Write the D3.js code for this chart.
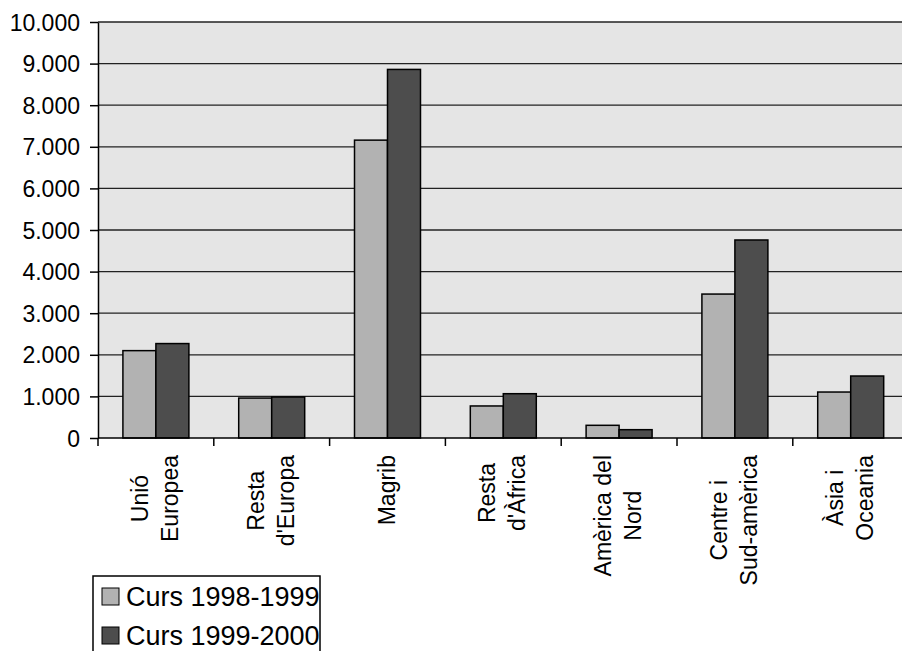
<!DOCTYPE html>
<html lang="ca">
<head>
    <meta charset="UTF-8">
    <title>Alumnes estrangers per procedència</title>
    <script src="https://d3js.org/d3.v7.min.js"></script>
    <style>
        body { margin: 0; background: #fff; }
        svg { display: block; font-family: "Liberation Sans", Arial, sans-serif; }
        .grid line { stroke: #222; stroke-width: 1.3; }
        .axis text { font-size: 23px; fill: #000; }
        .axis path, .axis line { stroke: #000; stroke-width: 1.5; }
    </style>
</head>
<body>
    <svg width="902" height="651"></svg>

    <script>
        // Data
        const categories = ["Unió Europea", "Resta d'Europa", "Magrib", "Resta d'Àfrica",
                            "Amèrica del Nord", "Centre i Sud-amèrica", "Àsia i Oceania"];
        const categoryLines = [["Unió", "Europea"], ["Resta", "d'Europa"], ["Magrib"],
                               ["Resta", "d'Àfrica"], ["Amèrica del", "Nord"],
                               ["Centre i", "Sud-amèrica"], ["Àsia i", "Oceania"]];
        const seriesNames = ["Curs 1998-1999", "Curs 1999-2000"];
        const curs1998 = [2100, 960, 7160, 770, 305, 3460, 1105];
        const curs1999 = [2270, 985, 8860, 1065, 200, 4760, 1490];
        const yTicks = [0, 1000, 2000, 3000, 4000, 5000, 6000, 7000, 8000, 9000, 10000];
        const colors = ["#b2b2b2", "#4d4d4d"];

        const data = categories.map(function(c, i) {
            return { cat: c, values: [curs1998[i], curs1999[i]] };
        });

        // Layout
        const plotLeft = 98, plotTop = 22, plotBottom = 438, plotRight = 908.6;

        const svg = d3.select("svg");

        const x0 = d3.scaleBand()
            .domain(categories)
            .range([plotLeft, plotRight])
            .padding(0);

        const x1 = d3.scaleBand()
            .domain([0, 1])
            .range([0, x0.bandwidth()])
            .paddingInner(0)
            .paddingOuter(0.755);

        const y = d3.scaleLinear()
            .domain([0, 10000])
            .range([plotBottom, plotTop]);

        const fmt = d3.formatLocale({ decimal: ",", thousands: ".", grouping: [3], currency: ["", ""] }).format(",");

        // Plot background
        svg.append("rect")
            .attr("x", plotLeft)
            .attr("y", plotTop)
            .attr("width", plotRight - plotLeft)
            .attr("height", plotBottom - plotTop)
            .attr("fill", "#e5e5e5");

        // Gridlines
        svg.append("g")
            .attr("class", "grid")
            .selectAll("line")
            .data(yTicks.slice(1))
            .enter()
            .append("line")
            .attr("x1", plotLeft)
            .attr("x2", plotRight)
            .attr("y1", function(d) { return y(d); })
            .attr("y2", function(d) { return y(d); });

        // Bars
        const groups = svg.selectAll(".group")
            .data(data)
            .enter()
            .append("g")
            .attr("class", "group")
            .attr("transform", function(d) { return "translate(" + x0(d.cat) + ",0)"; });

        groups.selectAll("rect")
            .data(function(d) { return d.values; })
            .enter()
            .append("rect")
            .attr("x", function(d, i) { return x1(i); })
            .attr("y", function(d) { return y(d); })
            .attr("width", x1.bandwidth())
            .attr("height", function(d) { return plotBottom - y(d); })
            .attr("fill", function(d, i) { return colors[i]; })
            .attr("stroke", "#000")
            .attr("stroke-width", 1.5);

        // Y axis
        const yAxis = svg.append("g")
            .attr("class", "axis")
            .attr("transform", "translate(" + plotLeft + ",0)")
            .call(d3.axisLeft(y).tickValues(yTicks).tickFormat(fmt).tickSize(8).tickPadding(10).tickSizeOuter(0));
        yAxis.selectAll("text").attr("dy", "0.35em");

        // X axis with ticks at band edges
        const xAxis = svg.append("g")
            .attr("class", "axis")
            .attr("transform", "translate(0," + plotBottom + ")");
        xAxis.append("line")
            .attr("x1", plotLeft)
            .attr("x2", plotRight);
        xAxis.selectAll(".xt")
            .data(categories)
            .enter()
            .append("line")
            .attr("class", "xt")
            .attr("x1", function(d) { return x0(d); })
            .attr("x2", function(d) { return x0(d); })
            .attr("y1", 0)
            .attr("y2", 8);

        // Rotated category labels, each block centred on its group
        const lineGap = 30;
        categoryLines.forEach(function(lines, i) {
            const cx = x0(categories[i]) + x0.bandwidth() / 2;
            const g = svg.append("g").attr("class", "axis");
            const texts = g.selectAll("text")
                .data(lines)
                .enter()
                .append("text")
                .attr("text-anchor", "middle")
                .text(function(d) { return d; });
            let maxLen = 0;
            texts.each(function() { maxLen = Math.max(maxLen, this.getComputedTextLength()); });
            const cy = 455 + maxLen / 2;
            const n = lines.length;
            texts.attr("transform", function(d, j) {
                const bx = cx + 7 + (j - (n - 1) / 2) * lineGap;
                return "translate(" + bx + "," + cy + ") rotate(-90)";
            });
        });

        // Legend
        const legend = svg.append("g");
        legend.append("rect")
            .attr("x", 93)
            .attr("y", 576)
            .attr("width", 227)
            .attr("height", 100)
            .attr("fill", "#fff")
            .attr("stroke", "#000")
            .attr("stroke-width", 1.5);

        const items = legend.selectAll(".item")
            .data(seriesNames)
            .enter()
            .append("g")
            .attr("class", "item")
            .attr("transform", function(d, i) { return "translate(0," + (i * 39) + ")"; });
        items.append("rect")
            .attr("x", 102)
            .attr("y", 588)
            .attr("width", 17)
            .attr("height", 17)
            .attr("fill", function(d, i) { return colors[i]; })
            .attr("stroke", "#000")
            .attr("stroke-width", 1);
        items.append("text")
            .attr("x", 126)
            .attr("y", 606)
            .attr("font-size", "27px")
            .text(function(d) { return d; });
    </script>
</body>
</html>
